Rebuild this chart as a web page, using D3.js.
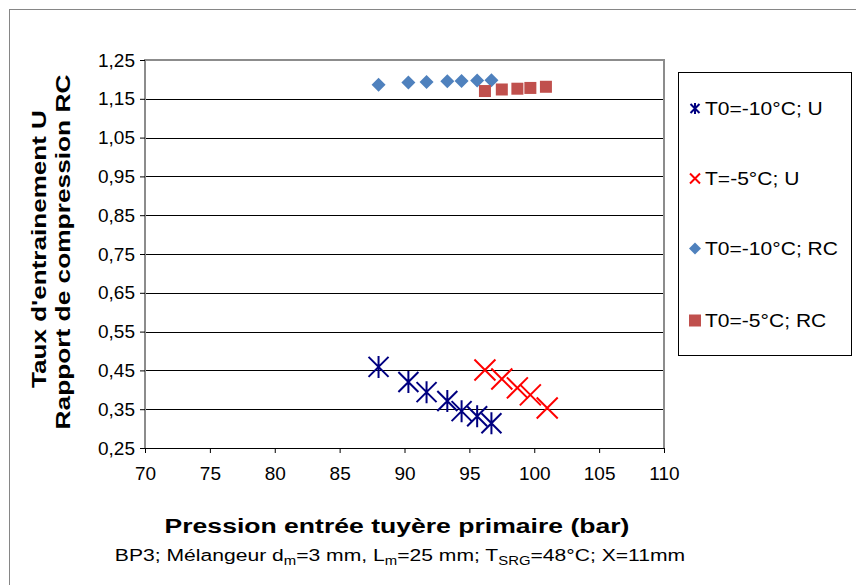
<!DOCTYPE html>
<html><head><meta charset="UTF-8">
<script src="https://cdn.jsdelivr.net/npm/d3@7"></script>
<style>
  body { margin: 0; background: #fff; }
  text { font-family: "Liberation Sans", Arial, sans-serif; fill: #000; }
</style>
</head>
<body>
<svg id="chart" width="856" height="585"></svg>
<script>
  // data
  const uColdX = [88.0, 90.3, 91.7, 93.3, 94.4, 95.6, 96.7];
  const uColdY = [0.459, 0.420, 0.394, 0.371, 0.345, 0.332, 0.314];
  const uWarmX = [96.2, 97.5, 98.7, 99.7, 101.0];
  const uWarmY = [0.451, 0.428, 0.405, 0.387, 0.353];
  const rcColdX = [88.0, 90.3, 91.7, 93.3, 94.4, 95.6, 96.7];
  const rcColdY = [1.186, 1.192, 1.193, 1.195, 1.196, 1.197, 1.198];
  const rcWarmX = [96.2, 97.5, 98.7, 99.7, 100.9];
  const rcWarmY = [1.170, 1.174, 1.176, 1.178, 1.181];
  const xTicks = [70, 75, 80, 85, 90, 95, 100, 105, 110];
  const yTicks = [0.25, 0.35, 0.45, 0.55, 0.65, 0.75, 0.85, 0.95, 1.05, 1.15, 1.25];
  const legendLabels = ["T0=-10°C; U", "T=-5°C; U", "T0=-10°C; RC", "T0=-5°C; RC"];

  const svg = d3.select("#chart");
  const pLeft = 145, pRight = 664, pTop = 60, pBottom = 448;

  const x = d3.scaleLinear().domain([70, 110]).range([pLeft, pRight]);
  const y = d3.scaleLinear().domain([0.25, 1.25]).range([pBottom, pTop]);

  // the original text is drawn a bit wider than Arial, stretch along the baseline
  function stretchTo(g, width) {
    const w = g.node().getBBox().width;
    g.attr("transform", g.attr("transform") + ` scale(${width / w},1)`);
  }

  // outer frame
  svg.append("rect").attr("x", 9.5).attr("y", 9.5).attr("width", 860).attr("height", 600)
    .attr("fill", "#fff").attr("stroke", "#868686").attr("stroke-width", 1);

  // gridlines
  svg.append("g").selectAll("line").data(yTicks.slice(1, -1)).enter().append("line")
    .attr("x1", pLeft).attr("x2", pRight)
    .attr("y1", d => Math.round(y(d)) + 0.5).attr("y2", d => Math.round(y(d)) + 0.5)
    .attr("stroke", "#000").attr("stroke-width", 1);

  // plot frame (gray left/top/right)
  svg.append("path")
    .attr("d", `M${pLeft},${pBottom} V${pTop} H${pRight} V${pBottom}`)
    .attr("fill", "none").attr("stroke", "#8c8c8c").attr("stroke-width", 2);

  // axes
  const yAxis = d3.axisLeft(y).tickValues(yTicks).tickSize(5).tickPadding(5)
    .tickFormat(d => d3.format(".2f")(d).replace(".", ","));
  const gy = svg.append("g").attr("transform", `translate(${pLeft},0)`).call(yAxis);
  gy.select(".domain").remove();
  gy.selectAll("line").attr("stroke", "#000");
  gy.selectAll("text").attr("font-size", 19).attr("fill", "#000")
    .attr("font-family", "Liberation Sans, Arial, sans-serif");

  const xAxis = d3.axisBottom(x).tickValues(xTicks).tickSize(5).tickPadding(14);
  const gx = svg.append("g").attr("transform", `translate(0,${pBottom})`).call(xAxis);
  gx.select(".domain").attr("stroke", "#000").attr("d", `M${pLeft},0.5H${pRight}`);
  gx.selectAll("line").attr("stroke", "#000");
  gx.selectAll("text").attr("font-size", 19).attr("fill", "#000")
    .attr("font-family", "Liberation Sans, Arial, sans-serif");

  // marker shapes
  const star = (s, v) => `M${-s},${-s}L${s},${s}M${-s},${s}L${s},${-s}M0,${-v}V${v}`;
  const cross = (s) => `M${-s},${-s}L${s},${s}M${-s},${s}L${s},${-s}`;

  svg.append("g").selectAll("path").data(d3.zip(rcColdX, rcColdY)).enter().append("path")
    .attr("transform", d => `translate(${x(d[0])},${y(d[1])})`)
    .attr("d", "M0,-7L7,0L0,7L-7,0Z").attr("fill", "#4F81BD");

  svg.append("g").selectAll("rect").data(d3.zip(rcWarmX, rcWarmY)).enter().append("rect")
    .attr("x", d => x(d[0]) - 6).attr("y", d => y(d[1]) - 6)
    .attr("width", 12).attr("height", 12).attr("fill", "#C0504D");

  svg.append("g").selectAll("path").data(d3.zip(uColdX, uColdY)).enter().append("path")
    .attr("transform", d => `translate(${x(d[0])},${y(d[1])})`)
    .attr("d", star(10, 11)).attr("stroke", "#000080").attr("stroke-width", 2).attr("fill", "none");

  svg.append("g").selectAll("path").data(d3.zip(uWarmX, uWarmY)).enter().append("path")
    .attr("transform", d => `translate(${x(d[0])},${y(d[1])})`)
    .attr("d", cross(10.5)).attr("stroke", "#FF0000").attr("stroke-width", 2).attr("fill", "none");

  // legend
  const lg = svg.append("g");
  lg.append("rect").attr("x", 678.5).attr("y", 72.5).attr("width", 173).attr("height", 283)
    .attr("fill", "#fff").attr("stroke", "#000").attr("stroke-width", 1);
  const legY = [115, 185, 255, 327];
  legendLabels.forEach((t, i) => {
    const cy = legY[i] - 6.5, cx = 695;
    if (i === 0) lg.append("path").attr("transform", `translate(${cx},${cy})`).attr("d", star(4.5, 5.5))
      .attr("stroke", "#000080").attr("stroke-width", 2).attr("fill", "none");
    if (i === 1) lg.append("path").attr("transform", `translate(${cx},${cy})`).attr("d", cross(5))
      .attr("stroke", "#FF0000").attr("stroke-width", 2).attr("fill", "none");
    if (i === 2) lg.append("path").attr("transform", `translate(${cx},${cy})`)
      .attr("d", "M0,-6L6,0L0,6L-6,0Z").attr("fill", "#4F81BD");
    if (i === 3) lg.append("rect").attr("x", cx - 6).attr("y", cy - 6).attr("width", 12).attr("height", 12)
      .attr("fill", "#C0504D");
    lg.append("g").attr("transform", `translate(705,${legY[i]}) scale(1.17,1)`)
      .append("text").attr("font-size", 18).text(t);
  });

  // axis titles
  const t1 = svg.append("g").attr("transform", "translate(46,249) rotate(-90)");
  t1.append("text").attr("text-anchor", "middle").attr("font-size", 21).attr("font-weight", "bold")
    .text("Taux d'entrainement U");
  stretchTo(t1, 278);
  const t2 = svg.append("g").attr("transform", "translate(70,252) rotate(-90)");
  t2.append("text").attr("text-anchor", "middle").attr("font-size", 21).attr("font-weight", "bold")
    .text("Rapport de compression RC");
  stretchTo(t2, 355);

  const t3 = svg.append("g").attr("transform", "translate(397,533)");
  t3.append("text").attr("text-anchor", "middle").attr("font-size", 21).attr("font-weight", "bold")
    .text("Pression entrée tuyère primaire (bar)");
  stretchTo(t3, 465);

  const t4 = svg.append("g").attr("transform", "translate(400,561)");
  const sub = t4.append("text").attr("text-anchor", "middle").attr("font-size", 17);
  sub.append("tspan").text("BP3; Mélangeur d");
  sub.append("tspan").attr("font-size", 12).attr("dy", 4).text("m");
  sub.append("tspan").attr("dy", -4).text("=3 mm, L");
  sub.append("tspan").attr("font-size", 12).attr("dy", 4).text("m");
  sub.append("tspan").attr("dy", -4).text("=25 mm; T");
  sub.append("tspan").attr("font-size", 12).attr("dy", 4).text("SRG");
  sub.append("tspan").attr("dy", -4).text("=48°C; X=11mm");
  stretchTo(t4, 571);
</script>
</body>
</html>
